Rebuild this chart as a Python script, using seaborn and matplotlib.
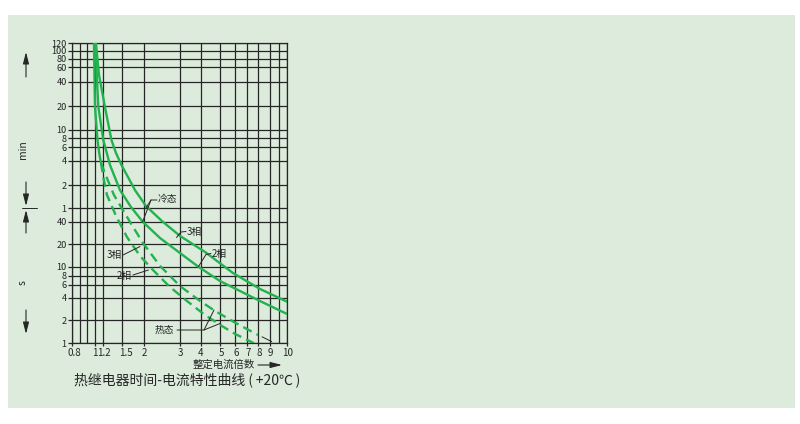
import numpy as np
import pandas as pd
import matplotlib
matplotlib.use("Agg")
import matplotlib.pyplot as plt
import matplotlib.transforms as mtransforms
from matplotlib.patches import Rectangle
import seaborn as sns

# --- data (current multiple, trip time in seconds) ---
COLD_3_X = [1.03, 1.098, 1.224, 1.323, 1.396, 1.5, 1.62, 1.771, 2.034, 2.44, 3.0, 4.19, 5.83, 8.13, 10.0]
COLD_3_T = [7200, 2900, 1160, 457, 305, 208, 152, 104, 63.8, 40.8, 25.8, 15.7, 8.54, 5.25, 3.5]
COLD_2_X = [1.021, 1.053, 1.082, 1.2, 1.30, 1.465, 1.683, 1.954, 2.387, 3.0, 3.84, 4.97, 6.38, 8.3, 10.0]
COLD_2_T = [7200, 2500, 1180, 457, 214, 104, 61.8, 40, 24.2, 15.2, 10, 6.76, 4.92, 3.48, 2.4]
HOT_X = [0.995, 1.0, 1.01, 1.064, 1.109, 1.144]
HOT_T = [7200, 2520, 1180, 457, 287, 227]
HOT_3_X = [1.144, 1.24, 1.363, 1.662, 1.962, 2.387, 3.0, 3.95, 4.70, 5.98, 7.95]
HOT_3_T = [227, 157, 89.5, 39.7, 20.7, 10.2, 5.77, 3.59, 2.64, 1.85, 1.28]
HOT_2_X = [1.144, 1.203, 1.254, 1.396, 1.599, 1.888, 2.204, 2.676, 3.30, 4.19, 5.09, 5.98, 7.59]
HOT_2_T = [227, 148, 89.5, 47.6, 24.9, 13.9, 9.18, 5.59, 3.59, 2.33, 1.67, 1.32, 1.0]
TAIL_X = [8.3, 9.1]
TAIL_T = [1.21, 1.05]

X_TICKS = [0.8, 1, 1.2, 1.5, 2, 3, 4, 5, 6, 7, 8, 9, 10]
X_LABELS = ['0.8', '1', '1.2', '1.5', '2', '3', '4', '5', '6', '7', '8', '9', '10']
X_EXTRA = [0.87, 0.93, 9.5]
Y_TICKS = [1, 2, 4, 6, 8, 10, 20, 40, 60, 120, 240, 360, 480, 600, 1200, 2400, 3600, 4800, 6000, 7200]
Y_LABELS = ['1', '2', '4', '6', '8', '10', '20', '40',
            '1', '2', '4', '6', '8', '10', '20', '40', '60', '80', '100', '120']

# --- hand-drawn grid: where each tick sits on the printed chart (pixels) ---
X_POS = np.array([71.5, 94.5, 103.3, 122, 144.5, 180, 201, 220.5, 235.3, 247, 258.5, 269.8, 287.3])
Y_POS = np.array([343.2, 320, 297.5, 284.8, 275.7, 266.5, 244.2, 221.7, 208, 185.5, 161, 147.5,
                  138.5, 129.8, 106, 81.7, 67.3, 58.8, 50.8, 43.5])
X_LOG = np.log10(X_TICKS)
Y_LOG = np.log10(Y_TICKS)


def _lg(v):
    with np.errstate(divide='ignore', invalid='ignore'):
        return np.log10(np.clip(np.asarray(v, dtype=float), 1e-6, None))


def x_fwd(v):
    lv = _lg(v)
    lo = (X_POS[1] - X_POS[0]) / (X_LOG[1] - X_LOG[0])
    hi = (X_POS[-1] - X_POS[-2]) / (X_LOG[-1] - X_LOG[-2])
    out = np.interp(lv, X_LOG, X_POS)
    out = np.where(lv < X_LOG[0], X_POS[0] + (lv - X_LOG[0]) * lo, out)
    out = np.where(lv > X_LOG[-1], X_POS[-1] + (lv - X_LOG[-1]) * hi, out)
    return out


def x_inv(p):
    p = np.asarray(p, dtype=float)
    return 10 ** np.interp(p, X_POS, X_LOG)


def y_fwd(v):
    lv = _lg(v)
    out = -np.interp(lv, Y_LOG, Y_POS)
    lo = (Y_POS[0] - Y_POS[1]) / (Y_LOG[1] - Y_LOG[0])
    hi = (Y_POS[-2] - Y_POS[-1]) / (Y_LOG[-1] - Y_LOG[-2])
    out = np.where(lv < Y_LOG[0], -Y_POS[0] + (lv - Y_LOG[0]) * lo, out)
    out = np.where(lv > Y_LOG[-1], -Y_POS[-1] + (lv - Y_LOG[-1]) * hi, out)
    return out


def y_inv(p):
    p = np.asarray(p, dtype=float)
    return 10 ** np.interp(p, -Y_POS, Y_LOG)


sns.set_theme(style='white')
plt.rcParams['font.family'] = ['Noto Sans CJK SC', 'DejaVu Sans']

BG = '#dcebdb'
GREEN = '#22b24f'
INK = '#262626'
W, H = 800, 424

fig = plt.figure(figsize=(8, 4.24), dpi=100)
fig.patch.set_facecolor('white')
fig.patches.append(Rectangle((8 / W, 1 - 408 / H), 787 / W, 393 / H, transform=fig.transFigure,
                             facecolor=BG, edgecolor='none', zorder=-10))

ax = fig.add_axes([71.5 / W, 1 - 343.2 / H, 215.8 / W, 299.7 / H])
ax.set_facecolor('none')
ax.set_xscale('function', functions=(x_fwd, x_inv))
ax.set_yscale('function', functions=(y_fwd, y_inv))
ax.set_xlim(0.8, 10)
ax.set_ylim(1, 7200)

ax.set_xticks(X_TICKS)
ax.set_xticklabels(X_LABELS)
ax.set_xticks(X_EXTRA, minor=True)
ax.set_yticks(Y_TICKS)
ax.set_yticklabels(Y_LABELS)
ax.yaxis.set_minor_locator(matplotlib.ticker.NullLocator())
ax.grid(True, which='both', color=INK, lw=0.9)
ax.tick_params(which='major', direction='out', length=3, width=0.9, color=INK,
               labelcolor=INK, pad=0.5)
ax.tick_params(axis='y', labelsize=6.6)
ax.tick_params(axis='x', which='minor', length=0)
ax.tick_params(axis='x', which='major', length=2, pad=1.5, labelsize=7)
ax.tick_params(left=True, bottom=True)
for s in ax.spines.values():
    s.set_color(INK)
    s.set_linewidth(0.9)

# the printed labels for 0.8 and 1.5 sit a little right of their grid lines
for lab, dx in zip(ax.get_xticklabels(), [3, 0, 0.5, 4, 0, 0, 0, 1, 1, 1, 1, 1, 0]):
    lab.set_transform(lab.get_transform() + mtransforms.ScaledTranslation(dx / 100, 0, fig.dpi_scale_trans))

curves = [
    (COLD_3_X, COLD_3_T, '-'),
    (COLD_2_X, COLD_2_T, '-'),
    (HOT_X, HOT_T, '-'),
    (HOT_3_X, HOT_3_T, (0, (4, 2.3))),
    (HOT_2_X, HOT_2_T, (0, (4, 2.3))),
]
for xs, ts, ls in curves:
    df = pd.DataFrame({'I': xs, 't': ts})
    sns.lineplot(data=df, x='I', y='t', ax=ax, color=GREEN, lw=1.7, linestyle=ls,
                 sort=False, estimator=None, zorder=3)
sns.lineplot(x=TAIL_X, y=TAIL_T, ax=ax, color=INK, lw=0.7, sort=False, estimator=None, zorder=3)
ax.set_xlabel('')
ax.set_ylabel('')


def fp(px, py):
    return (px, H - py)


def leader(pts):
    xs = [p[0] for p in pts]
    ys = [H - p[1] for p in pts]
    fig.add_artist(plt.Line2D(np.array(xs) / W, np.array(ys) / H, color=INK, lw=0.7,
                              transform=fig.transFigure))


def label(txt, px, py, size=7, **kw):
    fig.text(px / W, 1 - py / H, txt, fontsize=size, color=INK, va='center', **kw)


# curve labels with leader lines
label('冷态', 158, 199)
leader([(157, 200), (151, 200), (146, 208)])
leader([(151, 200), (142.5, 222)])
label('3相', 187, 231.5)
leader([(186, 231.5), (181, 232), (176.5, 237.5)])
label('2相', 212, 253.5)
leader([(211, 253.5), (206, 254.5), (198.5, 266.5)])
label('3相', 106.5, 255)
leader([(123, 255), (140, 246.5)])
label('2相', 116.5, 276)
leader([(133, 275), (148.5, 270)])
label('热态', 155, 330)
leader([(177, 330), (204, 330), (214, 310)])
leader([(204, 330), (220, 323.5)])

# y-axis unit markers
arrow = dict(arrowstyle='-|>,head_length=0.7,head_width=0.18', lw=0.8, color=INK,
             shrinkA=0, shrinkB=0, mutation_scale=10)
for start, end in [((26, 77), (26, 52)), ((26, 182), (26, 206)),
                   ((26, 233), (26, 210)), ((26, 310), (26, 334))]:
    ax.annotate('', xy=fp(*end), xytext=fp(*start), xycoords='figure pixels',
                textcoords='figure pixels', arrowprops=arrow)
leader([(22, 208), (37, 208)])
label('min', 23, 150, size=7.5, rotation=90, ha='center')
label('s', 23, 283, size=7.5, rotation=90, ha='center')

# x-axis caption and title
label('整定电流倍数', 193, 365, size=7.5)
ax.annotate('', xy=fp(282, 365), xytext=fp(258, 365), xycoords='figure pixels',
            textcoords='figure pixels', arrowprops=arrow)
label('热继电器时间-电流特性曲线 (\u2009+20℃\u2009)', 74, 380, size=10)

fig.savefig('out.png', dpi=100, facecolor='white')
